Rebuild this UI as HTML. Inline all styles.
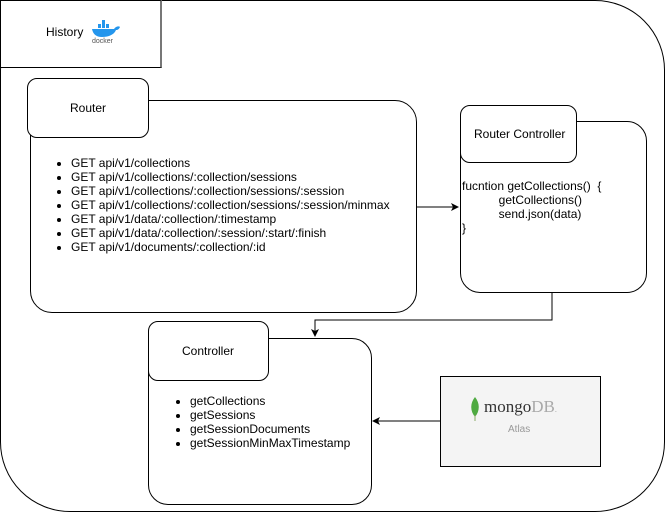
<!DOCTYPE html>
<html><head><style>
body{margin:0;width:665px;height:512px;background:#fff;font-family:"Liberation Sans",Arial,sans-serif;font-size:12px;color:#000;position:relative;overflow:hidden}
.b{position:absolute;box-sizing:border-box;border:1px solid #000;background:#fff}
.t{position:absolute;white-space:nowrap;line-height:14px}
ul{margin:0;padding-left:18px}
</style></head><body>
<div class="b" style="left:0;top:0;width:665px;height:512px;border-radius:70px"></div>
<div class="b" style="left:0;top:0;width:162px;height:68px;border-radius:0;border-right:2px solid #777"></div>
<div class="t" style="left:46px;top:25px">History</div>
<svg style="position:absolute;left:90px;top:18px" width="32" height="26" viewBox="0 0 32 26"><path d="M2 11h22c2-3 5-3 6-2-1 2-2 3-4 3-2 5-8 7-14 7C6 19 3 16 2 11z" fill="#2496ed"/><rect x="8" y="6" width="3" height="4" fill="#2496ed"/><rect x="12" y="6" width="3" height="4" fill="#2496ed"/><rect x="16" y="6" width="3" height="4" fill="#2496ed"/><rect x="12" y="2" width="3" height="4" fill="#2496ed"/><text x="2" y="25" font-size="7" fill="#555" font-family="Liberation Sans">docker</text></svg>

<div class="b" style="left:30px;top:100px;width:387px;height:213px;border-radius:22px"></div>
<div class="b" style="left:27px;top:78px;width:122px;height:60px;border-radius:10px"></div>
<div class="t" style="left:70px;top:101px">Router</div>
<div class="t" style="left:53px;top:156px"><ul>
<li>GET api/v1/collections</li><li>GET api/v1/collections/:collection/sessions</li><li>GET api/v1/collections/:collection/sessions/:session</li><li>GET api/v1/collections/:collection/sessions/:session/minmax</li><li>GET api/v1/data/:collection/:timestamp</li><li>GET api/v1/data/:collection/:session/:start/:finish</li><li>GET api/v1/documents/:collection/:id</li></ul></div>

<div class="b" style="left:460px;top:121px;width:187px;height:172px;border-radius:20px"></div>
<div class="b" style="left:460px;top:105px;width:117px;height:58px;border-radius:10px"></div>
<div class="t" style="left:474px;top:127px">Router Controller</div>
<div class="t" style="left:462px;top:179px">fucntion getCollections()&nbsp; {<br>&nbsp;&nbsp;&nbsp;&nbsp;&nbsp;&nbsp;&nbsp;&nbsp;&nbsp;&nbsp;&nbsp;getCollections()<br>&nbsp;&nbsp;&nbsp;&nbsp;&nbsp;&nbsp;&nbsp;&nbsp;&nbsp;&nbsp;&nbsp;send.json(data)<br>}</div>

<div class="b" style="left:148px;top:338px;width:224px;height:167px;border-radius:20px"></div>
<div class="b" style="left:148px;top:321px;width:121px;height:60px;border-radius:10px"></div>
<div class="t" style="left:182px;top:344px">Controller</div>
<div class="t" style="left:172px;top:394px"><ul><li>getCollections</li><li>getSessions</li><li>getSessionDocuments</li><li>getSessionMinMaxTimestamp</li></ul></div>

<div class="b" style="left:440px;top:376px;width:161px;height:91px;background:#f4f4f4"></div>
<svg style="position:absolute;left:470px;top:397px" width="10" height="24" viewBox="0 0 10 24"><path d="M5 0C0 6 0 14 5 20 10 14 10 6 5 0z" fill="#4faa41"/><path d="M5 18v6" stroke="#8a6" stroke-width="1"/></svg>
<div class="t" style="left:484px;top:400px;font-family:'Liberation Serif',serif;font-size:17px;color:#333">mongo<span style="color:#aaa">DB</span><span style="color:#aaa;font-size:8px">.</span></div>
<div class="t" style="left:508px;top:423px;font-size:10px;color:#999">Atlas</div>

<svg style="position:absolute;left:0;top:0" width="665" height="512">
<defs><marker id="a" markerWidth="8" markerHeight="8" refX="7" refY="4" orient="auto" markerUnits="userSpaceOnUse"><path d="M0 0L8 4L0 8L2 4z" fill="#000"/></marker></defs>
<path d="M417 207H458" stroke="#000" fill="none" marker-end="url(#a)"/>
<path d="M552 293V320H315V336" stroke="#000" fill="none" marker-end="url(#a)"/>
<path d="M440 421H373" stroke="#000" fill="none" marker-end="url(#a)"/>
</svg>
</body></html>
